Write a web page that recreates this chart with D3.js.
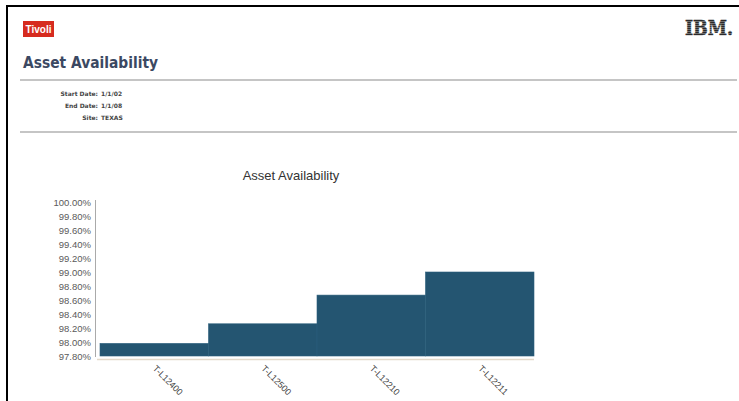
<!DOCTYPE html>
<html>
<head>
<meta charset="utf-8">
<script src="https://cdn.jsdelivr.net/npm/d3@7"></script>
<style>
  body { margin: 0; background: #fff; }
  svg { display: block; }
</style>
</head>
<body>
<div id="chart"></div>
<script>
// chart data
var assets = ["T-L12400", "T-L12500", "T-L12210", "T-L12211"];
var availability = [97.98, 98.26, 98.67, 99.00];
var yTicks = [97.8, 98.0, 98.2, 98.4, 98.6, 98.8, 99.0, 99.2, 99.4, 99.6, 99.8, 100.0];

// report header info
var infoLabels = ["Start Date:", "End Date:", "Site:"];
var infoValues = ["1/1/02", "1/1/08", "TEXAS"];

var W = 739, H = 401;

var svg = d3.select("#chart")
  .append("svg")
    .attr("width", W)
    .attr("height", H);

// page frame (top + left black border)
svg.append("rect").attr("x", 0).attr("y", 0).attr("width", W).attr("height", H).attr("fill", "#fff");
svg.append("line").attr("x1", 6).attr("x2", W).attr("y1", 6).attr("y2", 6)
  .attr("stroke", "#000").attr("stroke-width", 2);
svg.append("line").attr("x1", 7).attr("x2", 7).attr("y1", 5).attr("y2", H)
  .attr("stroke", "#000").attr("stroke-width", 2);

// Tivoli badge
svg.append("rect").attr("x", 23).attr("y", 21).attr("width", 31).attr("height", 16).attr("fill", "#d62b1f");
svg.append("text").attr("x", 38.5).attr("y", 33).attr("text-anchor", "middle")
  .attr("font-family", "Liberation Sans, Arial, sans-serif").attr("font-weight", "bold")
  .attr("font-size", 10).attr("fill", "#fff").text("Tivoli");

// IBM logo, striped
var logo = svg.append("g");
logo.append("text").attr("x", 685).attr("y", 35)
  .attr("font-family", "DejaVu Serif, serif").attr("font-weight", "bold")
  .attr("font-size", 20).attr("fill", "#2a2a2a")
  .attr("stroke", "#2a2a2a").attr("stroke-width", 0.6)
  .attr("textLength", 48).attr("lengthAdjust", "spacingAndGlyphs")
  .text("IBM.");
d3.range(21, 36, 2).forEach(function(y) {
  logo.append("line").attr("x1", 684).attr("x2", 736).attr("y1", y + 0.5).attr("y2", y + 0.5)
    .attr("stroke", "#fff").attr("stroke-width", 0.6).attr("opacity", 0.55);
});

// page heading
svg.append("text").attr("x", 23).attr("y", 68)
  .attr("font-family", "DejaVu Sans, Verdana, sans-serif").attr("font-weight", "bold")
  .attr("font-size", 15.5).attr("fill", "#3b4862")
  .attr("textLength", 135).attr("lengthAdjust", "spacingAndGlyphs")
  .text("Asset Availability");

svg.append("line").attr("x1", 20).attr("x2", 737).attr("y1", 80).attr("y2", 80)
  .attr("stroke", "#8c8c8c").attr("stroke-width", 1.2);
svg.append("line").attr("x1", 20).attr("x2", 737).attr("y1", 132).attr("y2", 132)
  .attr("stroke", "#8c8c8c").attr("stroke-width", 1.2);

var info = svg.append("g")
  .attr("font-family", "DejaVu Sans, Verdana, sans-serif").attr("font-weight", "bold")
  .attr("font-size", 6).attr("fill", "#444");
info.selectAll(".lab").data(infoLabels).enter().append("text")
  .attr("x", 98).attr("y", function(d, i) { return 96 + i * 12; })
  .attr("text-anchor", "end").text(function(d) { return d; });
info.selectAll(".val").data(infoValues).enter().append("text")
  .attr("x", 101).attr("y", function(d, i) { return 96 + i * 12; })
  .text(function(d) { return d; });

// chart title
svg.append("text").attr("x", 291).attr("y", 180).attr("text-anchor", "middle")
  .attr("font-family", "Liberation Sans, Arial, sans-serif")
  .attr("font-size", 13).attr("fill", "#333")
  .text("Asset Availability");

// scales
var x = d3.scaleBand()
  .domain(assets)
  .range([100, 534])
  .padding(0);

var y = d3.scaleLinear()
  .domain([97.8, 100])
  .range([356, 202]);

// bars
svg.selectAll(".bar")
  .data(assets)
  .enter()
  .append("rect")
    .attr("class", "bar")
    .attr("x", function(d) { return x(d); })
    .attr("y", function(d, i) { return y(availability[i]); })
    .attr("width", x.bandwidth())
    .attr("height", function(d, i) { return y(97.8) - y(availability[i]); })
    .attr("fill", "#245571")
    .attr("stroke", "#2b5f7c")
    .attr("stroke-width", 0.6);

// Y axis
var yAxis = svg.append("g")
  .attr("transform", "translate(95,0)")
  .call(d3.axisLeft(y).tickValues(yTicks).tickSize(0).tickPadding(4)
    .tickFormat(function(d) { return d.toFixed(2) + "%"; }));
yAxis.select(".domain").attr("stroke", "#aaa").attr("d", "M0.5,200V357");
yAxis.selectAll("text")
  .attr("font-family", "Liberation Sans, Arial, sans-serif")
  .attr("font-size", 9.5).attr("fill", "#5a5a5a");

// X axis
var xAxis = svg.append("g")
  .attr("transform", "translate(0,359)")
  .call(d3.axisBottom(x).tickSize(0).tickPadding(0));
xAxis.select(".domain").attr("stroke", "#e3d9ca").attr("stroke-width", 1.5).attr("d", "M97,0.5H534");
xAxis.selectAll("text")
  .attr("font-family", "Liberation Sans, Arial, sans-serif")
  .attr("font-size", 9).attr("fill", "#444")
  .attr("text-anchor", "start")
  .attr("dy", "0")
  .attr("transform", "translate(-2,10) rotate(45)");
</script>
</body>
</html>
